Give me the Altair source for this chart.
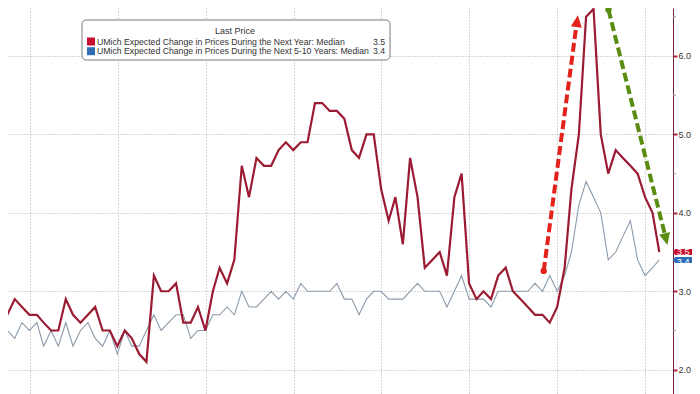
import altair as alt
import pandas as pd

# ---------------- data ----------------
series_names = [
    "UMich Expected Change in Prices During the Next Year: Median",
    "UMich Expected Change in Prices During the Next 5-10 Years: Median",
]
first_month = "2018-08-31"  # month-end dates, one value per month

one_year = [3.0, 2.7, 2.9, 2.8, 2.7, 2.7, 2.6, 2.5, 2.5, 2.9,
            2.7, 2.6, 2.7, 2.8, 2.5, 2.5, 2.3, 2.5, 2.4, 2.2,
            2.1, 3.2, 3.0, 3.0, 3.1, 2.6, 2.6, 2.8, 2.5, 3.0,
            3.3, 3.1, 3.4, 4.6, 4.2, 4.7, 4.6, 4.6, 4.8, 4.9,
            4.8, 4.9, 4.9, 5.4, 5.4, 5.3, 5.3, 5.2, 4.8, 4.7,
            5.0, 5.0, 4.3, 3.9, 4.2, 3.6, 4.7, 4.2, 3.3, 3.4,
            3.5, 3.2, 4.2, 4.5, 3.1, 2.9, 3.0, 2.9, 3.2, 3.3,
            3.0, 2.9, 2.8, 2.7, 2.7, 2.6, 2.8, 3.3, 4.3, 5.0,
            6.5, 6.6, 5.0, 4.5, 4.8, 4.7, 4.6, 4.5, 4.2, 4.0, 3.5]

five_ten = [2.6, 2.5, 2.4, 2.6, 2.5, 2.6, 2.3, 2.5, 2.3, 2.6,
            2.3, 2.5, 2.6, 2.4, 2.3, 2.5, 2.2, 2.5, 2.3, 2.3,
            2.5, 2.7, 2.5, 2.6, 2.7, 2.7, 2.4, 2.5, 2.5, 2.7,
            2.7, 2.8, 2.7, 3.0, 2.8, 2.8, 2.9, 3.0, 2.9, 3.0,
            2.9, 3.1, 3.0, 3.0, 3.0, 3.0, 3.1, 2.9, 2.9, 2.7,
            2.9, 3.0, 3.0, 2.9, 2.9, 2.9, 3.0, 3.1, 3.0, 3.0,
            3.0, 2.8, 3.0, 3.2, 2.9, 2.9, 2.9, 2.8, 3.0, 3.0,
            3.0, 3.0, 3.0, 3.1, 3.0, 3.2, 3.0, 3.2, 3.5, 4.1,
            4.4, 4.2, 4.0, 3.4, 3.5, 3.7, 3.9, 3.4, 3.2, 3.3, 3.4]

y_ticks = [2.0, 3.0, 4.0, 5.0, 6.0]
y_minor = [2.5, 3.5, 4.5, 5.5, 6.5]
grid_years = [2019, 2020, 2021, 2022, 2023, 2024, 2025, 2026]

# annotation arrows (start, shaft end, tip) in data coordinates
red_arrow_dates = ["2024-11-05", "2025-03-22"]
red_arrow_vals = [3.26, 6.42]
red_tip = ("2025-03-27", 6.52)
green_arrow_dates = ["2025-08-01", "2026-03-26"]
green_arrow_vals = [6.59, 3.69]
green_tip = ("2026-04-03", 3.59)

# ---------------- styles ----------------
FONT = "Liberation Sans"
RED_LINE = "#9B1B33"
BLUE_LINE = "#8A9AAA"
RED_TAG = "#C8102E"
BLUE_TAG = "#2E6DB4"
GRID = "#AEAEAE"

W, H = 665, 386

dates = pd.date_range(first_month, periods=len(one_year), freq="ME")
df = pd.DataFrame({"date": dates, "one_year": one_year, "five_ten": five_ten})

xscale = alt.Scale(domain=[alt.DateTime(year=2018, month=10, date=3),
                           alt.DateTime(year=2026, month=4, date=26)])
yscale = alt.Scale(domain=[1.69, 6.612], nice=False, zero=False)

xaxis = alt.Axis(values=[alt.DateTime(year=y, month=1, date=1) for y in grid_years],
                 labels=False, ticks=False, domain=False, title=None,
                 grid=True, gridColor=GRID, gridDash=[1, 2], gridWidth=1)
yaxis = alt.Axis(orient="right", values=y_ticks, format=".1f", title=None,
                 grid=True, gridColor=GRID, gridDash=[1, 2], gridWidth=1,
                 domain=True, domainColor="#7A1F3D", domainWidth=1,
                 ticks=True, tickColor="#B0203F", tickSize=4, tickWidth=2,
                 labelFont=FONT, labelFontSize=9, labelColor="#333333",
                 labelPadding=1)


def X(field="date:T"):
    return alt.X(field, scale=xscale, axis=xaxis)


def Y(field):
    return alt.Y(field, scale=yscale, axis=yaxis)


base = alt.Chart(df)
blue_line = base.mark_line(color=BLUE_LINE, strokeWidth=1.1, clip=True).encode(
    x=X(), y=Y("five_ten:Q"))
red_line = base.mark_line(color=RED_LINE, strokeWidth=2.2, clip=True).encode(
    x=X(), y=Y("one_year:Q"))

# minor ticks on the right axis
minor = alt.Chart(pd.DataFrame({"v": y_minor})).mark_rule(
    color="#999999", strokeWidth=1).encode(
    y=Y("v:Q"), x=alt.value(W), x2=alt.value(W + 3))


# arrows
def arrow(dates_, vals_, tip, color, angle):
    d = pd.DataFrame({"date": pd.to_datetime(dates_), "v": vals_})
    shaft = alt.Chart(d).mark_line(color=color, strokeWidth=4, strokeDash=[9, 4],
                                   strokeCap="butt").encode(x=X(), y=Y("v:Q"))
    dot = alt.Chart(d.iloc[[0]]).mark_circle(color=color, size=40, opacity=1).encode(
        x=X(), y=Y("v:Q"))
    t = pd.DataFrame({"date": pd.to_datetime([tip[0]]), "v": [tip[1]]})
    head = alt.Chart(t).mark_point(shape="M 0 0 L -0.46 1 L 0.46 1 Z", filled=True,
                                   size=576, color=color, opacity=1,
                                   angle=angle).encode(x=X(), y=Y("v:Q"))
    return [shaft, dot, head]


red_arrow = arrow(red_arrow_dates, red_arrow_vals, red_tip, "#E3221B", 7.7)
green_arrow = arrow(green_arrow_dates, green_arrow_vals, green_tip, "#5A8C12", 165.9)

# last-value tags at the right axis
tag_layers = []
for val, col, dy in [(five_ten[-1], BLUE_TAG, 2), (one_year[-1], RED_TAG, 0)]:
    tdf = pd.DataFrame({"v": [val], "label": [f"{val:.1f}"]})
    tag_layers.append(alt.Chart(tdf).mark_point(
        shape="M -1 0 L -0.82 -0.25 L 1 -0.25 L 1 0.25 L -0.82 0.25 Z",
        filled=True, size=576, color=col, opacity=1).encode(
        y=Y("v:Q"), x=alt.value(W + 12)))
    tag_layers.append(alt.Chart(tdf).mark_text(
        color="white", font=FONT, fontSize=9, align="left", baseline="middle",
        dy=dy).encode(
        y=Y("v:Q"), x=alt.value(W + 4), text="label:N"))

# legend box (drawn manually, as in the reference)
one = pd.DataFrame({"a": [0]})
leg_box = alt.Chart(one).mark_rect(fill="white", stroke="#7A7A7A", strokeWidth=1,
                                   cornerRadius=4).encode(
    x=alt.value(74), x2=alt.value(382), y=alt.value(12), y2=alt.value(52))
leg_title = alt.Chart(one).mark_text(text="Last Price", font=FONT, fontSize=9,
                                     color="#333333", align="center",
                                     baseline="middle").encode(
    x=alt.value(227), y=alt.value(23))
leg_layers = [leg_box, leg_title]
for k, (name, col, last) in enumerate([(series_names[0], RED_TAG, one_year[-1]),
                                        (series_names[1], BLUE_TAG, five_ten[-1])]):
    yc = 33.5 + 9.7 * k
    leg_layers.append(alt.Chart(one).mark_rect(color=col).encode(
        x=alt.value(79), x2=alt.value(87), y=alt.value(yc - 4), y2=alt.value(yc + 4)))
    leg_layers.append(alt.Chart(one).mark_text(text=name, font=FONT, fontSize=8.7,
                                               color="#333333", align="left",
                                               baseline="middle").encode(
        x=alt.value(89), y=alt.value(yc)))
    leg_layers.append(alt.Chart(one).mark_text(text=f"{last:.1f}", font=FONT,
                                               fontSize=8.7, color="#333333",
                                               align="right",
                                               baseline="middle").encode(
        x=alt.value(377), y=alt.value(yc)))

chart = alt.layer(
    blue_line, red_line, minor, *red_arrow, *green_arrow, *tag_layers, *leg_layers
).properties(
    width=W, height=H,
    autosize=alt.AutoSizeParams(type="none"),
    padding={"left": 0, "top": 0, "right": 19, "bottom": 0},
    background="white",
).configure_view(stroke=None)

chart.save("out.html", embed_options={"renderer": "svg", "actions": False})
